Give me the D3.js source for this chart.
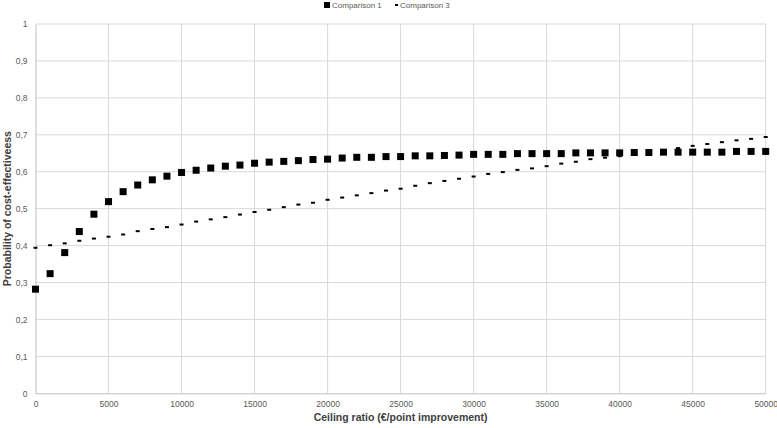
<!DOCTYPE html>
<html><head><meta charset="utf-8">
<script src="https://cdn.jsdelivr.net/npm/d3@7"></script>
<style>body{margin:0;background:#fff}svg{display:block}</style>
</head><body>
<script>
const ceilings = d3.range(0, 50001, 1000);
const comparison1 = [0.282,0.324,0.381,0.438,0.485,0.519,0.546,0.564,0.578,0.588,0.598,
  0.604,0.610,0.615,0.618,0.623,0.626,0.628,0.630,0.633,0.634,
  0.637,0.639,0.639,0.641,0.641,0.643,0.643,0.644,0.645,0.647,
  0.647,0.647,0.649,0.649,0.649,0.649,0.651,0.651,0.651,0.651,
  0.652,0.652,0.653,0.653,0.653,0.653,0.653,0.655,0.655,0.655];
const comparison3 = [0.394,0.401,0.406,0.413,0.419,0.424,0.430,0.439,0.445,0.450,0.457,
  0.465,0.471,0.477,0.484,0.491,0.497,0.504,0.511,0.516,0.524,
  0.530,0.536,0.542,0.549,0.554,0.562,0.569,0.575,0.581,0.587,
  0.594,0.599,0.605,0.609,0.615,0.622,0.627,0.634,0.638,0.642,
  0.647,0.652,0.657,0.664,0.670,0.675,0.680,0.685,0.689,0.694];
const xTicks = d3.range(0, 50001, 5000);
const yTicks = d3.range(0, 11).map(d => d / 10);
const seriesNames = ["Comparison 1", "Comparison 3"];

const W = 777, H = 428;
const svg = d3.select("body").append("svg").attr("width", W).attr("height", H);
const x = d3.scaleLinear().domain([0, 50000]).range([35.5, 765.7]);
const y = d3.scaleLinear().domain([0, 1]).range([393.3, 24]);
const font = "'Liberation Sans', Arial, sans-serif";
const fmt = d => String(d).replace(".", ",");

// gridlines
svg.append("g").selectAll("line").data(yTicks.slice(1)).join("line")
  .attr("x1", x(0)).attr("x2", x(50000)).attr("y1", d => y(d)).attr("y2", d => y(d))
  .attr("stroke", "#d9d9d9").attr("stroke-width", 1);
svg.append("g").selectAll("line").data(xTicks.slice(1)).join("line")
  .attr("x1", d => x(d)).attr("x2", d => x(d)).attr("y1", y(0)).attr("y2", y(1))
  .attr("stroke", "#d9d9d9").attr("stroke-width", 1);

// axes
const xAxis = svg.append("g").attr("transform", `translate(0,${y(0)})`)
  .call(d3.axisBottom(x).tickValues(xTicks).tickSize(0).tickPadding(8).tickFormat(d => d));
xAxis.select(".domain").attr("stroke", "#bfbfbf");
xAxis.selectAll("text").attr("fill", "#595959").attr("font-size", 8.5).attr("font-family", font);

const yAxis = svg.append("g").attr("transform", `translate(${x(0)},0)`)
  .call(d3.axisLeft(y).tickValues(yTicks).tickSize(0).tickPadding(8).tickFormat(fmt));
yAxis.select(".domain").attr("stroke", "#bfbfbf");
yAxis.selectAll("text").attr("fill", "#595959").attr("font-size", 8.5).attr("font-family", font);

// series 3 dashes
svg.append("g").selectAll("rect").data(ceilings).join("rect")
  .attr("x", d => x(d) - 2).attr("y", (d, i) => y(comparison3[i]) - 1)
  .attr("width", 4).attr("height", 2).attr("fill", "#000");

// series 1 squares
svg.append("g").selectAll("rect").data(ceilings).join("rect")
  .attr("x", d => x(d) - 3.5).attr("y", (d, i) => y(comparison1[i]) - 3.5)
  .attr("width", 7).attr("height", 7).attr("fill", "#000");

// axis titles
svg.append("text").attr("x", (x(0) + x(50000)) / 2).attr("y", 421)
  .attr("text-anchor", "middle").attr("font-family", font).attr("font-weight", "bold")
  .attr("font-size", 10.5).attr("fill", "#404040").text("Ceiling ratio (€/point improvement)");
svg.append("text").attr("transform", `translate(11,${(y(0) + y(1)) / 2}) rotate(-90)`)
  .attr("text-anchor", "middle").attr("font-family", font).attr("font-weight", "bold")
  .attr("font-size", 10.5).attr("fill", "#404040").text("Probability of cost-effectiveess");

// legend
const lg = svg.append("g");
lg.append("rect").attr("x", 324).attr("y", 2).attr("width", 6).attr("height", 6).attr("fill", "#000");
lg.append("text").attr("x", 332).attr("y", 8).attr("font-family", font).attr("font-size", 8)
  .attr("fill", "#595959").text(seriesNames[0]);
lg.append("rect").attr("x", 395).attr("y", 4).attr("width", 3).attr("height", 2).attr("fill", "#000");
lg.append("text").attr("x", 400).attr("y", 8).attr("font-family", font).attr("font-size", 8)
  .attr("fill", "#595959").text(seriesNames[1]);
</script>
</body></html>
